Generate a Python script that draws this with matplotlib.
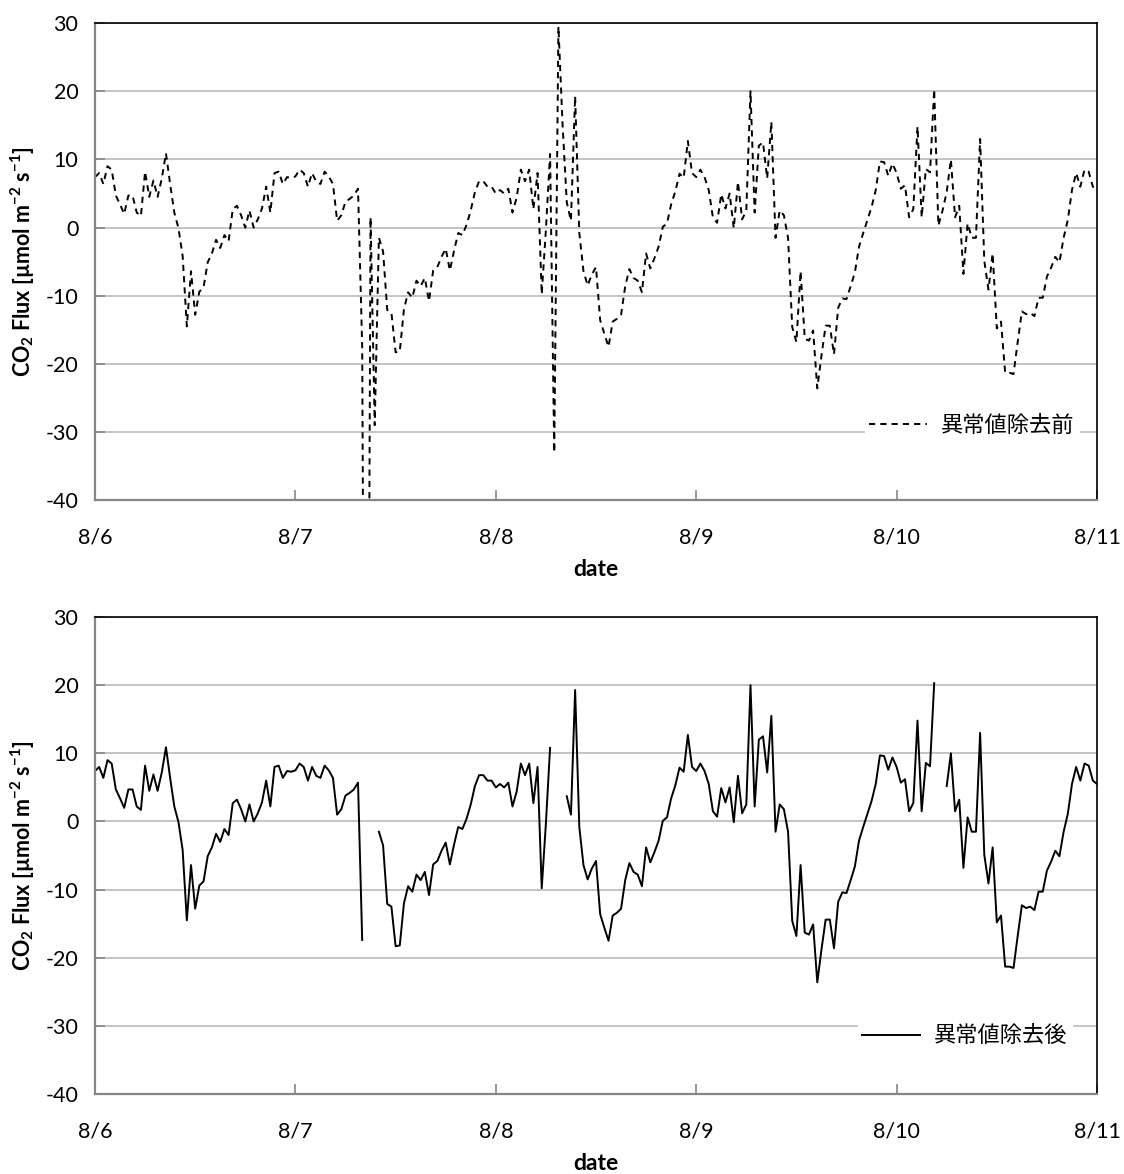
"""CO2 flux before / after outlier removal, 8/6 - 8/11 (half-hourly)."""
import numpy as np

import matplotlib

matplotlib.use("Agg")
import matplotlib.pyplot as plt  # noqa: E402

plt.rcParams["font.family"] = ["Lato", "Noto Sans CJK JP", "DejaVu Sans"]
plt.rcParams["mathtext.fontset"] = "custom"
plt.rcParams["mathtext.rm"] = "Lato"
plt.rcParams["mathtext.bf"] = "Lato:bold"
plt.rcParams["axes.unicode_minus"] = False

# half-hourly flux values, one list per day (raw, before outlier removal)
day1 = [7.4, 8.0, 6.4, 9.0, 8.5, 4.7, 3.4, 2.0, 4.7, 4.7,
        2.2, 1.7, 8.2, 4.5, 6.9, 4.5, 7.2, 10.9, 6.4, 2.2,
        -0.1, -4.2, -14.5, -6.4, -12.8, -9.4, -8.8, -5.1, -3.8, -1.8,
        -3.0, -1.1, -2.0, 2.7, 3.2, 1.8, 0.0, 2.5, 0.0, 1.2,
        2.8, 6.0, 2.2, 8.0, 8.2, 6.4, 7.4, 7.3]
day2 = [7.5, 8.5, 8.0, 6.0, 8.0, 6.7, 6.4, 8.2, 7.5, 6.4,
        1.0, 1.8, 3.8, 4.2, 4.7, 5.7, -17.4, -150.0, 1.5, -29.0,
        -1.5, -3.5, -12.1, -12.5, -18.3, -18.2, -12.0, -9.5, -10.3, -7.8,
        -8.6, -7.4, -10.8, -6.3, -5.8, -4.3, -3.1, -6.3, -3.4, -0.8,
        -1.1, 0.4, 2.5, 5.2, 6.8, 6.8, 6.0, 6.0]
day3 = [5.0, 5.5, 5.0, 5.7, 2.2, 4.4, 8.5, 6.8, 8.5, 2.7,
        8.0, -9.8, -0.3, 10.8, -33.0, 29.5, 15.0, 3.7, 1.0, 19.3,
        -0.8, -6.4, -8.5, -6.9, -5.8, -13.6, -15.6, -17.5, -13.8, -13.4,
        -12.8, -8.6, -6.1, -7.4, -7.8, -9.5, -3.8, -6.0, -4.5, -2.8,
        0.1, 0.6, 3.4, 5.3, 7.9, 7.3, 12.7, 8.0]
day4 = [7.4, 8.5, 7.4, 5.5, 1.5, 0.7, 4.9, 2.8, 5.0, -0.1,
        6.7, 1.2, 2.5, 20.0, 2.2, 12.0, 12.5, 7.2, 15.5, -1.5,
        2.5, 1.8, -1.5, -14.6, -16.8, -6.4, -16.3, -16.6, -15.1, -23.6,
        -18.8, -14.4, -14.4, -18.6, -11.8, -10.4, -10.5, -8.6, -6.6, -2.8,
        -0.8, 1.1, 3.0, 5.5, 9.7, 9.6, 7.6, 9.4]
day5 = [8.0, 5.7, 6.2, 1.5, 2.7, 14.8, 1.5, 8.6, 8.1, 20.3,
        0.3, 2.5, 5.2, 10.0, 1.5, 3.2, -6.8, 0.6, -1.5, -1.5,
        13.0, -4.9, -9.1, -3.8, -14.8, -13.8, -21.3, -21.3, -21.5, -16.8,
        -12.3, -12.7, -12.5, -13.0, -10.3, -10.3, -7.2, -5.9, -4.3, -5.1,
        -1.5, 1.1, 5.5, 8.0, 6.0, 8.5, 8.2, 6.0, 5.5]

# indices (half-hour steps from 8/6 00:00) flagged as outliers
removed = [65, 66, 67, 110, 111, 112, 202, 203]

date_labels = ["8/6", "8/7", "8/8", "8/9", "8/10", "8/11"]
y_ticks = [30, 20, 10, 0, -10, -20, -30, -40]

raw = np.array(day1 + day2 + day3 + day4 + day5)
clean = raw.copy()
clean[removed] = np.nan
t = np.arange(len(raw)) / 48.0  # days since 8/6

ylabel = r"CO$_\mathbf{2}$ Flux [µmol m$^\mathbf{-2}$ s$^\mathbf{-1}$]"

fig = plt.figure(figsize=(11.24, 11.74), dpi=100)
ax_top = fig.add_axes([0.0845, 0.574, 0.8915, 0.4063])
ax_bot = fig.add_axes([0.0845, 0.0681, 0.8915, 0.4063])

panels = [
    (ax_top, raw, (0, (3.2, 2.6)), "異常値除去前", (0.875, 0.157)),
    (ax_bot, clean, "-", "異常値除去後", (0.868, 0.122)),
]
for ax, y, ls, label, anchor in panels:
    ax.plot(t, y, color="black", lw=1.4, ls=ls, label=label)
    ax.set_xlim(0, 5)
    ax.set_ylim(-40, 30)
    ax.set_xticks(range(len(date_labels)))
    ax.set_xticklabels(date_labels)
    ax.set_yticks(y_ticks)
    ax.yaxis.grid(True, color="#bfbfbf", lw=1.3)
    ax.set_axisbelow(True)
    ax.tick_params(axis="both", direction="in", length=7, width=1.2,
                   color="#868686", labelsize=15.5)
    ax.tick_params(axis="x", pad=20)
    ax.tick_params(axis="y", pad=12)
    for side in ("left", "bottom"):
        ax.spines[side].set_color("#868686")
        ax.spines[side].set_linewidth(1.6)
    for side in ("top", "right"):
        ax.spines[side].set_color("black")
        ax.spines[side].set_linewidth(1.2)
    ax.set_xlabel("date", fontsize=16.5, fontweight="bold", labelpad=8)
    ax.set_ylabel(ylabel, fontsize=15.5, fontweight="bold", labelpad=6)
    leg = ax.legend(loc="center", bbox_to_anchor=anchor, fontsize=16,
                    frameon=True, fancybox=False, handlelength=2.6,
                    borderpad=0.2, handletextpad=0.6)
    leg.get_frame().set_facecolor("white")
    leg.get_frame().set_edgecolor("white")
    leg.get_frame().set_alpha(1)

fig.savefig("out.png", dpi=100)
plt.close(fig)
